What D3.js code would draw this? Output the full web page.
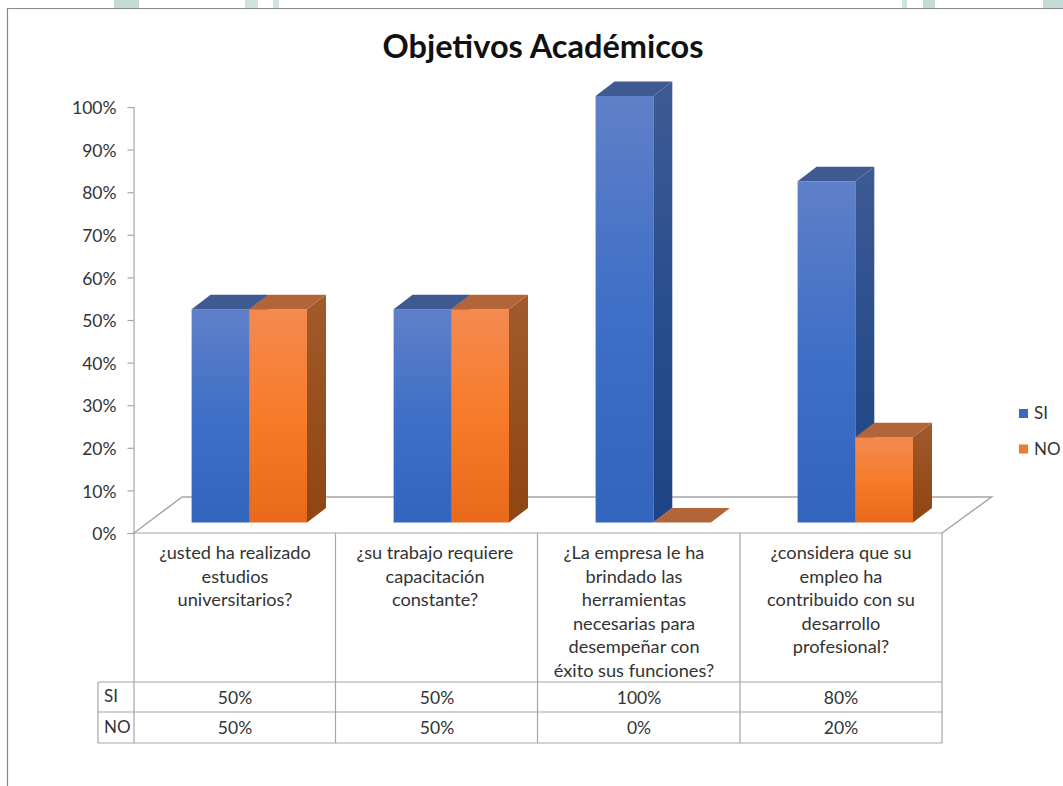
<!DOCTYPE html>
<html><head><meta charset="utf-8">
<script src="https://cdn.jsdelivr.net/npm/d3@7"></script>
<style>html,body{margin:0;padding:0;background:#fff}svg{display:block}text{font-family:Lato,"Open Sans",sans-serif;fill:#333}</style>
</head><body><svg id="c" width="1063" height="786"></svg>
<script>
const chartTitle = "Objetivos Académicos";
const categories = [
  ["¿usted ha realizado","estudios","universitarios?"],
  ["¿su trabajo requiere","capacitación","constante?"],
  ["¿La empresa le ha","brindado las","herramientas","necesarias para","desempeñar con","éxito sus funciones?"],
  ["¿considera que su","empleo ha","contribuido con su","desarrollo","profesional?"]
];
const seriesNames = ["SI","NO"];
const siValues = [50,50,100,80];
const noValues = [50,50,0,20];
const yTicks = [0,10,20,30,40,50,60,70,80,90,100];

const svg = d3.select("#c");
const defs = svg.append("defs");
const palette = {
  SI:{front:["#5f80c8","#3f6fc6","#3364be"],top:"#3f5a93",side:["#3f5a93","#294e8e","#1f4484"]},
  NO:{front:["#f48a50","#f77b2a","#e8691a"],top:"#b3653a",side:["#a25a2e","#984f1e","#8f4613"]}
};
seriesNames.forEach(s=>{
  [["front",palette[s].front],["side",palette[s].side]].forEach(([k,c])=>{
    const g=defs.append("linearGradient").attr("id",`${s}-${k}`).attr("x1",0).attr("x2",0).attr("y1",0).attr("y2",1);
    g.append("stop").attr("offset","0%").attr("stop-color",c[0]);
    g.append("stop").attr("offset","50%").attr("stop-color",c[1]);
    g.append("stop").attr("offset","100%").attr("stop-color",c[2]);
  });
});

// page background remnants above the chart
[[114,25,"#c3dcd7"],[245,13,"#cfe2de"],[273,6,"#cfe2de"],[902,5,"#cfe2de"],[923,12,"#c3dcd7"],[1043,20,"#c3dcd7"]].forEach(d=>
  svg.append("rect").attr("x",d[0]).attr("y",0).attr("width",d[1]).attr("height",8).attr("fill",d[2]));

// frame
svg.append("path").attr("d","M7.5,786V8.5H1063").attr("fill","none").attr("stroke","#8a8a8a").attr("stroke-width",1.2);

svg.append("text").text(chartTitle).attr("x",543).attr("y",58).attr("text-anchor","middle")
  .attr("font-size",32.5).attr("font-weight",700).style("fill","#111");

const grid="#a6a6a6";
const depthX=19, depthY=14.5;
const colEdges=[134,335.5,537.5,740,942];
const band=d3.scaleBand().domain(d3.range(categories.length)).range([134,942]);
const axisY=d3.scaleLinear().domain([0,100]).range([533,107]);
const barY=d3.scaleLinear().domain([0,100]).range([522.5,96]);
const barW=57.7, barOff=57.6;
const headerShift=[0,-2,-5,0];

// floor
svg.append("path").attr("d",`M134,533L182,497H991.5L942,533`).attr("fill","none").attr("stroke",grid).attr("stroke-width",1.5);

// y axis
const axis=d3.axisLeft(axisY).tickValues(yTicks).tickFormat(d=>d+"%").tickSize(6).tickPadding(11);
const ag=svg.append("g").attr("transform","translate(133.5,0)").call(axis);
ag.selectAll("path,line").attr("stroke",grid).attr("stroke-width",1.2);
ag.selectAll("text").attr("font-size",17.5).attr("font-family","Lato").attr("dy","0.38em");

// bars
function bar(x,v,s){
  const y=barY(v), b=barY(0), w=barW, p=palette[s];
  const g=svg.append("g");
  if(v>0){
    g.append("path").attr("d",`M${x+w},${y}l${depthX},${-depthY}V${b-depthY}l${-depthX},${depthY}Z`).attr("fill",`url(#${s}-side)`);
    g.append("rect").attr("x",x).attr("y",y).attr("width",w).attr("height",b-y).attr("fill",`url(#${s}-front)`);
  }
  g.append("path").attr("d",`M${x},${y}l${depthX},${-depthY}h${w}l${-depthX},${depthY}Z`).attr("fill",p.top);
}
categories.forEach((c,i)=>{
  const x0=band(i)+barOff;
  bar(x0,siValues[i],"SI");
  bar(x0+barW,noValues[i],"NO");
});

// data table
const rowY=[533,682,712,743];
const t=svg.append("g").attr("stroke",grid).attr("stroke-width",1.2);
colEdges.forEach(x=>t.append("line").attr("x1",x).attr("x2",x).attr("y1",533).attr("y2",743));
t.append("line").attr("x1",98).attr("x2",98).attr("y1",682).attr("y2",743);
rowY.forEach((y,i)=>t.append("line").attr("x1",i?98:134).attr("x2",942).attr("y1",y).attr("y2",y));

categories.forEach((lines,i)=>{
  const cx=band(i)+band.bandwidth()/2;
  lines.forEach((l,j)=>svg.append("text").text(l).attr("x",cx+headerShift[i]).attr("y",559+j*23.5).attr("text-anchor","middle").attr("font-size",18.2));
  [siValues,noValues].forEach((vals,r)=>svg.append("text").text(vals[i]+"%").attr("x",cx).attr("y",[704,734][r]).attr("text-anchor","middle").attr("font-size",17.5));
});
seriesNames.forEach((s,r)=>svg.append("text").text(s).attr("x",104).attr("y",[702,733][r]).attr("font-size",17));

// legend
const legendColor={SI:"#3b68be",NO:"#ee7a2e"};
seriesNames.forEach((s,r)=>{
  const y=[409,444.5][r];
  svg.append("rect").attr("x",1019).attr("y",y).attr("width",9).attr("height",9).attr("fill",legendColor[s]);
  svg.append("text").text(s).attr("x",1034).attr("y",y+10).attr("font-size",17);
});
</script></body></html>
